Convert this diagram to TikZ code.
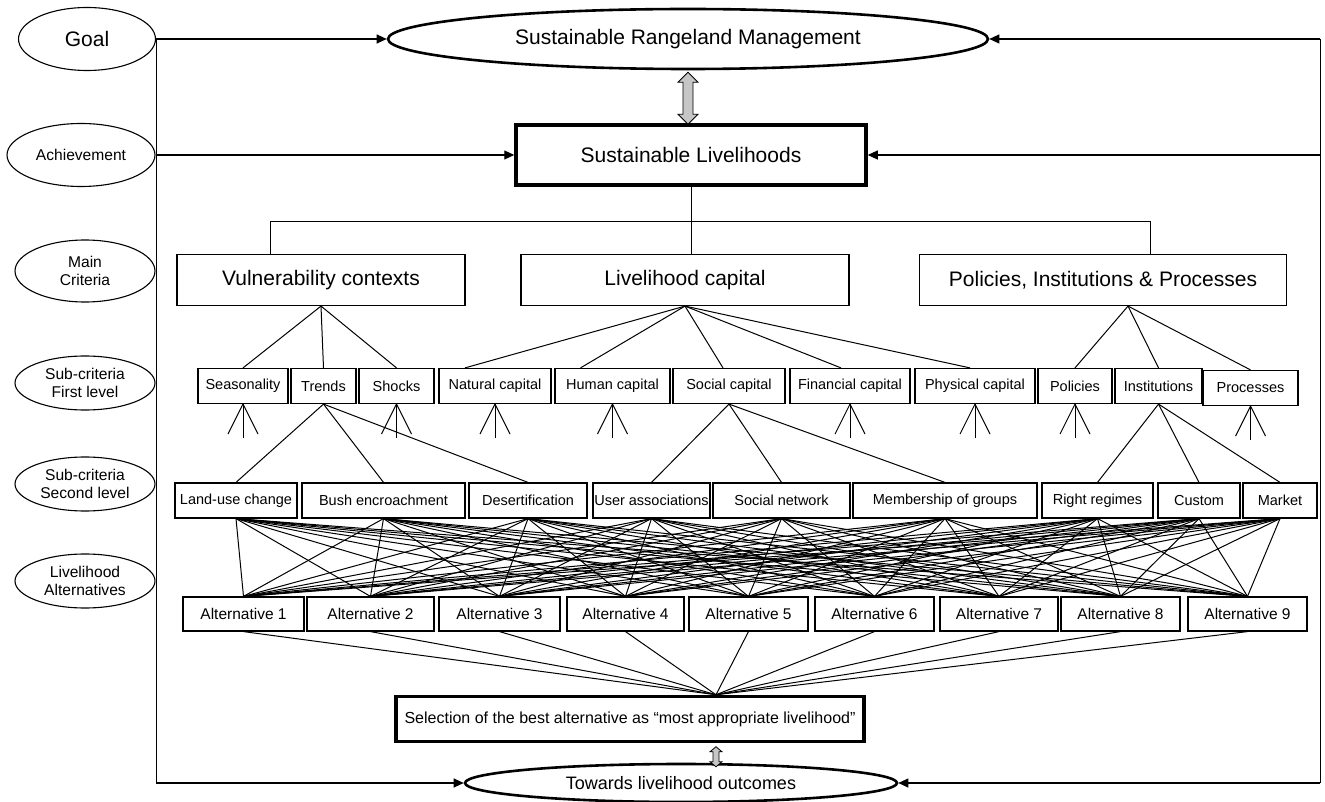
\documentclass[tikz,border=0pt]{standalone}
\usepackage{fontspec}
\setmainfont{Liberation Sans}
\usetikzlibrary{shapes.geometric, arrows.meta}

\begin{document}
\begin{tikzpicture}[
        x=1pt, y=-1pt,
        every node/.style={font=\fontsize{21}{25}\selectfont, inner sep=1pt},
        lab/.style={ellipse, draw, line width=1.1pt, minimum width=140pt, minimum height=54pt, align=center, font=\fontsize{15.6}{17.5}\selectfont},
        bigell/.style={ellipse, draw, line width=2.6pt},
        mainbox/.style={draw, line width=1.2pt, minimum height=51pt},
        thickbox/.style={draw, line width=3.5pt},
        subbox/.style={draw, line width=1.2pt, minimum height=35pt, font=\fontsize{14.5}{17}\selectfont},
        altbox/.style={draw, line width=1.2pt, minimum height=34pt, font=\fontsize{15.5}{18}\selectfont},
        link/.style={line width=1pt},
        arr/.style={line width=1.1pt, -{Triangle[length=10pt, width=9pt]}},
        twoway/.style={draw, line width=0.8pt, fill=gray!45}
    ]
    \useasboundingbox (0,0) rectangle (1325,802);

    \node[lab, minimum width=137pt, minimum height=63pt, font=\fontsize{21}{25}\selectfont] (Goal) at (87,39) {Goal};
    \node[lab, minimum width=148pt, minimum height=63pt] (Achieve) at (81,155) {Achievement};
    \node[lab, minimum height=62pt] (MainC) at (85,271) {Main\\Criteria};
    \node[lab] (SubOne) at (85,383) {Sub-criteria\\First level};
    \node[lab] (SubTwo) at (85,484) {Sub-criteria\\Second level};
    \node[lab] (AltLab) at (85,581) {Livelihood\\Alternatives};

    \node[bigell, minimum width=600pt, minimum height=60pt] (SRM) at (688,39) {Sustainable Rangeland Management};
    \node[thickbox, minimum width=350pt, minimum height=60pt] (SL) at (691,155) {Sustainable Livelihoods};

    \node[mainbox, minimum width=288pt] (VC) at (321,280) {Vulnerability contexts};
    \node[mainbox, minimum width=328pt] (LC) at (685,280) {Livelihood capital};
    \node[mainbox, minimum width=367pt] (PIP) at (1103,280) {Policies, Institutions \& Processes};

    \node[subbox, minimum width=90pt] (Season) at (243,386) {Seasonality};
    \node[subbox, minimum width=65pt] (Trends) at (323.5,386) {Trends};
    \node[subbox, minimum width=75pt] (Shocks) at (396.5,386) {Shocks};
    \node[subbox, minimum width=112pt] (Natural) at (495,386) {Natural capital};
    \node[subbox, minimum width=115pt] (Human) at (612.5,386) {Human capital};
    \node[subbox, minimum width=112pt] (Social) at (729,386) {Social capital};
    \node[subbox, minimum width=120pt] (Financial) at (850,386) {Financial capital};
    \node[subbox, minimum width=120pt] (Physical) at (975,386) {Physical capital};
    \node[subbox, minimum width=74pt] (Policies) at (1075,386) {Policies};
    \node[subbox, minimum width=87pt] (Institutions) at (1158.5,386) {Institutions};
    \node[subbox, minimum width=95pt] (Processes) at (1250.5,388) {Processes};

    \node[subbox, minimum width=122pt] (Landuse) at (236,500.5) {Land-use change};
    \node[subbox, minimum width=163pt] (Bush) at (383.5,500.5) {Bush encroachment};
    \node[subbox, minimum width=118pt] (Desert) at (528,500.5) {Desertification};
    \node[subbox, minimum width=117pt] (UserAssoc) at (651.5,500.5) {User associations};
    \node[subbox, minimum width=137pt] (SocNet) at (781.5,500.5) {Social network};
    \node[subbox, minimum width=184pt] (Member) at (945,500.5) {Membership of groups};
    \node[subbox, minimum width=111pt] (Rights) at (1097.5,500.5) {Right regimes};
    \node[subbox, minimum width=82pt] (Custom) at (1199,500.5) {Custom};
    \node[subbox, minimum width=74pt] (Market) at (1280,500.5) {Market};

    \foreach \i/\x/\w in {1/243.5/121, 2/370.5/127, 3/499.5/121, 4/625.5/117, 5/748.5/119, 6/874.5/119, 7/999/118, 8/1120.5/119, 9/1247.5/119}
        \node[altbox, minimum width=\w pt] (Alt\i) at (\x,614) {Alternative \i};

    \node[thickbox, minimum width=468pt, minimum height=45pt, font=\fontsize{16}{19}\selectfont] (Select) at (630,719) {Selection of the best alternative as “most appropriate livelihood”};
    \node[bigell, minimum width=432pt, minimum height=38pt, font=\fontsize{18}{21}\selectfont] (Outcome) at (681,783) {Towards livelihood outcomes};

    \coordinate (Meet) at ([xshift=86pt]Select.north);
    \coordinate (RTop) at (1320,39);
    \coordinate (RBot) at (1320,783);

    \draw[link] (SL.south) -- (SL.south |- LC.north);
    \draw[link] ([xshift=-51pt]VC.north) -- ++(0,-32) -| ([xshift=47pt]PIP.north);

    \foreach \c in {Season, Trends, Shocks}
        \draw[link] (VC.south) -- (\c.north);
    \foreach \c/\d in {Natural/-30, Human/-32, Social/-6, Financial/-9, Physical/-5}
        \draw[link] (LC.south) -- ([xshift=\d pt]\c.north);
    \foreach \c in {Policies, Institutions, Processes}
        \draw[link] ([xshift=25pt]PIP.south) -- (\c.north);

    \foreach \c in {Landuse, Bush, Desert}
        \draw[link] (Trends.south) -- (\c.north);
    \foreach \c in {UserAssoc, SocNet, Member}
        \draw[link] (Social.south) -- (\c.north);
    \foreach \c in {Rights, Custom, Market}
        \draw[link] (Institutions.south) -- (\c.north);

    \foreach \n in {Season, Shocks, Natural, Human, Financial, Physical, Policies, Processes} {
        \draw[link] (\n.south) -- ++(-15,30);
        \draw[link] (\n.south) -- ++(0,34);
        \draw[link] (\n.south) -- ++(15,30);
    }

    \foreach \s in {Landuse, Bush, Desert, UserAssoc, SocNet, Member, Rights, Custom, Market}
        \foreach \a in {1,...,9}
            \draw[link] (\s.south) -- (Alt\a.north);

    \foreach \a in {1,...,9}
        \draw[link] (Alt\a.south) -- (Meet);

    \draw[twoway] ([yshift=-2pt]SRM.south) -- ++(10,10) -- ++(-5,0) -- ++(0,32) -- ++(5,0) -- ++(-10,10) -- ++(-10,-10) -- ++(5,0) -- ++(0,-32) -- ++(-5,0) -- cycle;
    \draw[twoway] (Meet |- Select.south) ++(0,3.5) -- ++(6,5) -- ++(-3,0) -- ++(0,10) -- ++(3,0) -- ++(-6,5) -- ++(-6,-5) -- ++(3,0) -- ++(0,-10) -- ++(-3,0) -- cycle;

    \draw[arr] (Goal.east) -- (SRM.west);
    \draw[arr] (Achieve.east) -- (SL.west);
    \draw[arr] (Goal.east) |- (Outcome.west);
    \draw[link] (RTop) -- (RBot);
    \draw[arr] (RTop) -- (SRM.east);
    \draw[arr] (RTop |- SL.east) -- (SL.east);
    \draw[arr] (RBot) -- (Outcome.east);
\end{tikzpicture}
\end{document}
